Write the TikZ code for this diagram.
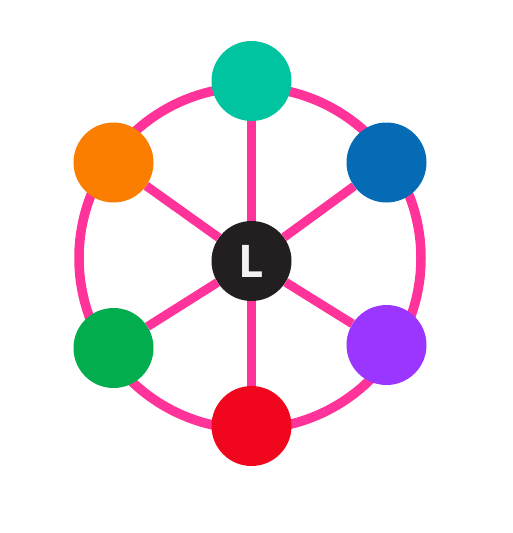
\documentclass[tikz,border=0pt]{standalone}
\usepackage{fontspec}
\newfontfamily\lfont{Open Sans}
\definecolor{ringpink}{HTML}{FF3399}
\definecolor{cteal}{HTML}{00C4A0}
\definecolor{cblue}{HTML}{046BB4}
\definecolor{corange}{HTML}{FB7E00}
\definecolor{cgreen}{HTML}{02AD4E}
\definecolor{cpurple}{HTML}{9A36FF}
\definecolor{cred}{HTML}{F0071E}
\definecolor{cdark}{HTML}{231F20}
\definecolor{lwhite}{HTML}{F2F2F2}
\begin{document}
\begin{tikzpicture}[x=1pt,y=-1pt,
  dot/.style={circle,minimum size=80pt,inner sep=0pt,fill=#1},
  spoke/.style={draw=ringpink,line width=9pt}]
\useasboundingbox (0,0) rectangle (513,533);
\draw[ringpink,line width=9.5pt] (250,258) circle[radius=171pt];
\node[dot=cdark,font=\lfont\bfseries\fontsize{45}{45}\selectfont,text=lwhite] (c) at (251.5,261) {L};
\node[dot=cteal] (t) at (251.5,81) {};
\node[dot=corange] (ul) at (113.5,162.5) {};
\node[dot=cblue] (ur) at (386.5,162.5) {};
\node[dot=cgreen] (ll) at (113.5,348) {};
\node[dot=cpurple] (lr) at (386.5,345) {};
\node[dot=cred] (b) at (251.5,426) {};
\foreach \n in {t,ul,ur,ll,lr,b} \draw[spoke] (c) -- (\n);
\end{tikzpicture}
\end{document}
